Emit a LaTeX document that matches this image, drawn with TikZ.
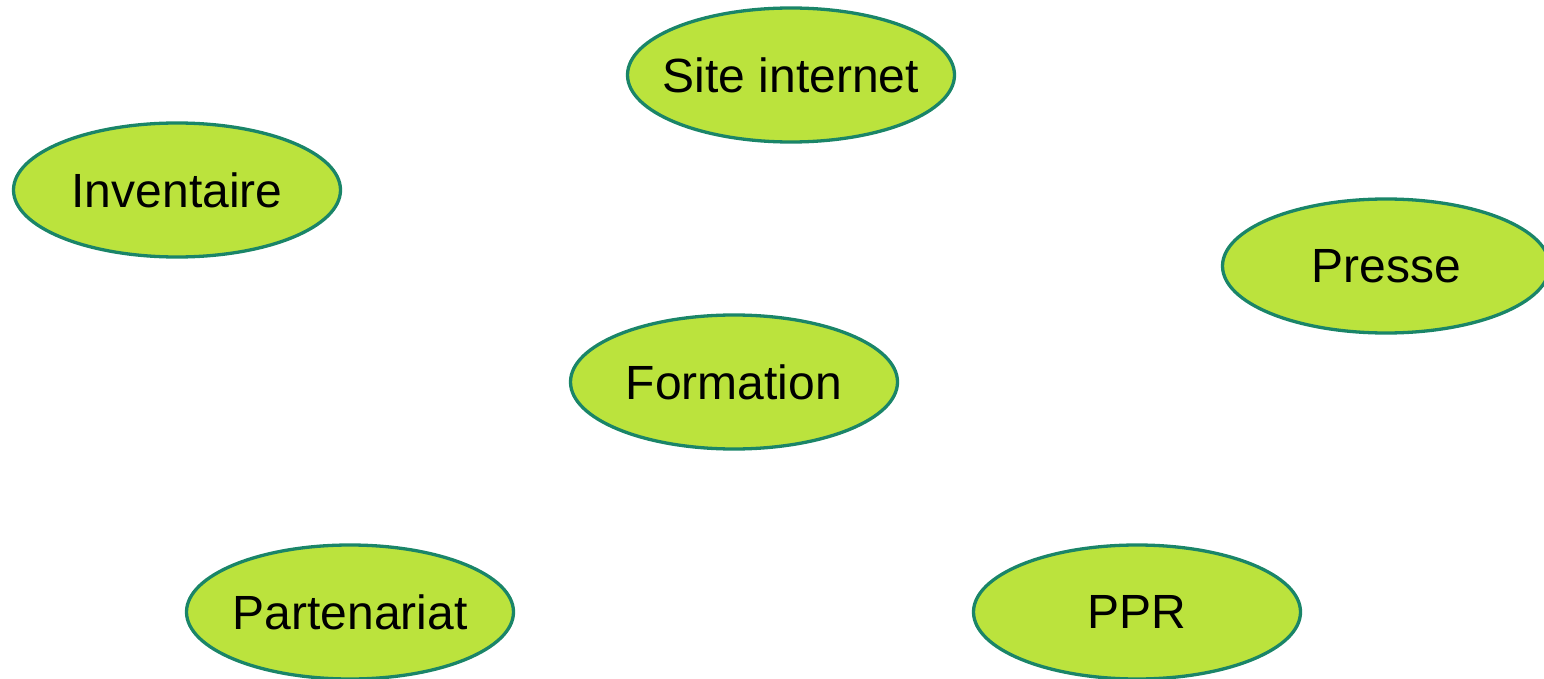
\documentclass[tikz,border=0pt]{standalone}
\usepackage{fontspec}
\setmainfont{Liberation Sans}
\usetikzlibrary{shapes.geometric}
\definecolor{fillgreen}{RGB}{187,227,61}
\definecolor{edgegreen}{RGB}{26,133,104}
\newcommand{\zw}[1]{\makebox[0pt]{#1}}
\begin{document}
\begin{tikzpicture}[x=1pt,y=-1pt,
  topic/.style={ellipse, draw=edgegreen, fill=fillgreen, line width=3.3pt,
    minimum width=327pt, minimum height=134pt, inner sep=0pt,
    font=\fontsize{48}{52}\selectfont, text=black}]
\useasboundingbox (0,0) rectangle (1544,679);
\clip (0,0) rectangle (1544,679);
\node[topic] (site) at (791,75) {\zw{Site internet}};
\node[topic] (inv) at (177,190) {\zw{Inventaire}};
\node[topic] (presse) at (1386,266) {\zw{Presse}};
\node[topic] (form) at (734,382) {\zw{Formation}};
\node[topic] (part) at (350,612) {\zw{Partenariat}};
\node[topic] (ppr) at (1137,612) {\zw{PPR}};
\end{tikzpicture}
\end{document}
